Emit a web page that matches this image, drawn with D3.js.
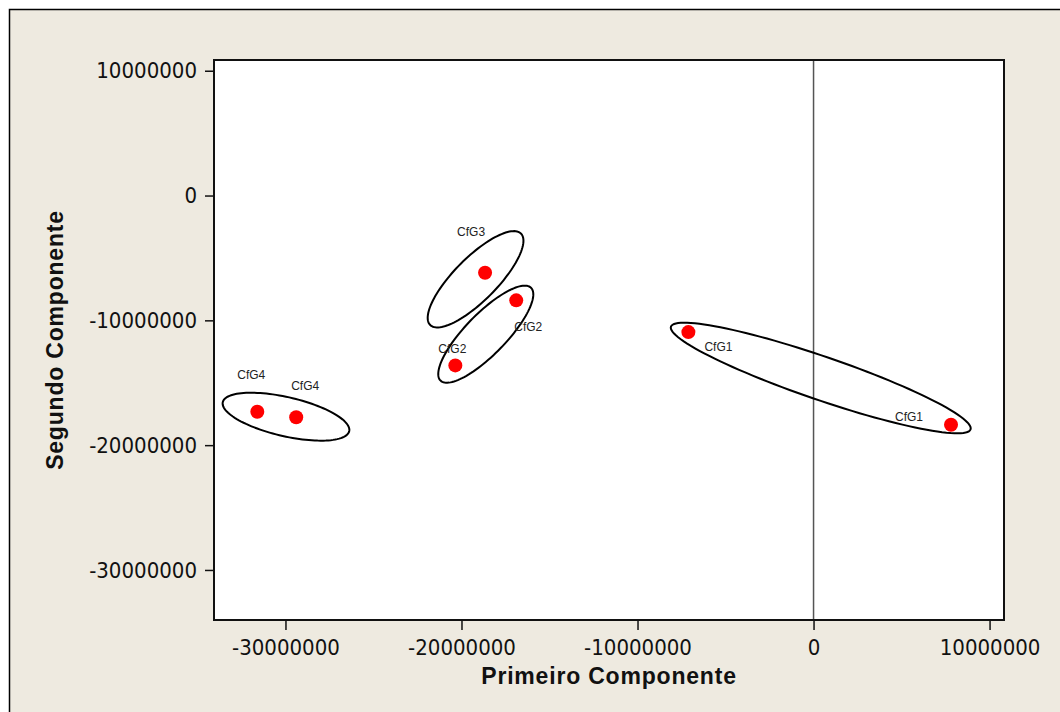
<!DOCTYPE html>
<html>
<head>
<meta charset="utf-8">
<script src="https://cdn.jsdelivr.net/npm/d3@7"></script>
<style>
  html, body { margin: 0; padding: 0; background: #fff; }
  svg { display: block; }
</style>
</head>
<body>
<svg id="chart" width="1060" height="712"></svg>
<script>
'use strict'

// scores (millions)
const pointLabels = ['CfG3', 'CfG2', 'CfG2', 'CfG4', 'CfG4', 'CfG1', 'CfG1'];
const pc1 = [-18.66, -16.89, -20.35, -31.60, -29.39, -7.11, 7.81];
const pc2 = [-6.19, -8.40, -13.61, -17.32, -17.77, -10.94, -18.37];

// group ellipses: centre, half width, half height, correlation
const ellGroups = ['CfG3', 'CfG2', 'CfG4', 'CfG1'];
const ellCx = [-19.20, -18.62, -29.97, 0.41];
const ellCy = [-6.71, -11.11, -17.72, -14.62];
const ellHx = [2.72, 2.70, 3.60, 8.52];
const ellHy = [3.86, 3.89, 1.92, 4.43];
const ellRho = [0.80, 0.82, -0.55, -0.91];

const xTicks = [-30000000, -20000000, -10000000, 0, 10000000];
const yTicks = [10000000, 0, -10000000, -20000000, -30000000];

// label nudges in pixels (text centre relative to the point)
const labelNudge = [[-14, -41], [12, 26], [-3, -17], [-6, -37], [9, -32], [30, 15], [-42, -8]];

const M = 1e6;
const plotL = 214, plotT = 60, plotR = 1004, plotB = 620;
const TICK_FONT = '"DejaVu Sans Condensed", "DejaVu Sans", sans-serif';
const TITLE_FONT = '"Liberation Sans", Arial, sans-serif';

var svg = d3.select('#chart');

// outer frame
svg.append('rect')
	.attr('x', 9.5)
	.attr('y', 9.5)
	.attr('width', 1100)
	.attr('height', 800)
	.attr('fill', '#eeeae0')
	.attr('stroke', '#000')
	.attr('stroke-width', 1.5);

var x = d3.scaleLinear()
	.domain([-34.06 * M, 10.82 * M])
	.range([plotL, plotR]);

var y = d3.scaleLinear()
	.domain([-34.01 * M, 10.86 * M])
	.range([plotB, plotT]);

// plot area
svg.append('rect')
	.attr('x', plotL)
	.attr('y', plotT)
	.attr('width', plotR - plotL)
	.attr('height', plotB - plotT)
	.attr('fill', '#fff');

// reference line at zero
svg.append('line')
	.attr('x1', x(0))
	.attr('x2', x(0))
	.attr('y1', plotT)
	.attr('y2', plotB)
	.attr('stroke', '#555')
	.attr('stroke-width', 1.5);

// ellipses
var ellLine = d3.line()
	.x(function(d) { return x(d[0]); })
	.y(function(d) { return y(d[1]); })
	.curve(d3.curveLinearClosed);

var ellData = ellGroups.map(function(g, i) {
	var pts = [];
	var s = Math.sqrt(1 - ellRho[i] * ellRho[i]);
	for (var k = 0; k < 120; k++) {
		var t = k / 120 * Math.PI * 2;
		pts.push([
			(ellCx[i] + ellHx[i] * Math.cos(t)) * M,
			(ellCy[i] + ellHy[i] * (ellRho[i] * Math.cos(t) + s * Math.sin(t))) * M
		]);
	}
	return pts;
});

svg.append('g')
	.selectAll('path')
	.data(ellData)
	.enter()
	.append('path')
	.attr('d', ellLine)
	.attr('fill', 'none')
	.attr('stroke', '#000')
	.attr('stroke-width', 2);

// points
var pts = pointLabels.map(function(l, i) { return { label: l, px: pc1[i] * M, py: pc2[i] * M, nudge: labelNudge[i] }; });

svg.append('g')
	.selectAll('circle')
	.data(pts)
	.enter()
	.append('circle')
	.attr('cx', function(d) { return x(d.px); })
	.attr('cy', function(d) { return y(d.py); })
	.attr('r', 7)
	.attr('fill', '#ff0000');

svg.append('g')
	.selectAll('text')
	.data(pts)
	.enter()
	.append('text')
	.attr('x', function(d) { return x(d.px) + d.nudge[0]; })
	.attr('y', function(d) { return y(d.py) + d.nudge[1]; })
	.attr('dy', '0.35em')
	.attr('text-anchor', 'middle')
	.style('font-family', TITLE_FONT)
	.style('font-size', '12px')
	.style('fill', '#222')
	.text(function(d) { return d.label; });

// plot border
svg.append('rect')
	.attr('x', plotL)
	.attr('y', plotT)
	.attr('width', plotR - plotL)
	.attr('height', plotB - plotT)
	.attr('fill', 'none')
	.attr('stroke', '#111')
	.attr('stroke-width', 2);

// axes (plain hyphen for negatives, as in the original)
var fmt = function(d) { return String(d); };

var xAxis = svg.append('g')
	.attr('transform', 'translate(0,' + plotB + ')')
	.call(d3.axisBottom(x).tickValues(xTicks).tickFormat(fmt).tickSize(10).tickPadding(9));

var yAxis = svg.append('g')
	.attr('transform', 'translate(' + plotL + ',0)')
	.call(d3.axisLeft(y).tickValues(yTicks).tickFormat(fmt).tickSize(9).tickPadding(8));

[xAxis, yAxis].forEach(function(a) {
	a.select('.domain').remove();
	a.selectAll('line').attr('stroke', '#111').attr('stroke-width', 1.5);
	a.selectAll('text')
		.style('font-family', TICK_FONT)
		.style('font-size', '22px')
		.style('fill', '#111');
});

// axis titles
svg.append('text')
	.attr('x', (plotL + plotR) / 2)
	.attr('y', 684)
	.attr('text-anchor', 'middle')
	.style('font-family', TITLE_FONT)
	.style('font-weight', 'bold')
	.style('font-size', '23px')
	.style('letter-spacing', '0.8px')
	.style('fill', '#111')
	.text('Primeiro Componente');

svg.append('text')
	.attr('transform', 'translate(63,' + (plotT + plotB) / 2 + ') rotate(-90)')
	.attr('text-anchor', 'middle')
	.style('font-family', TITLE_FONT)
	.style('font-weight', 'bold')
	.style('font-size', '23px')
	.style('letter-spacing', '0.8px')
	.style('fill', '#111')
	.text('Segundo Componente');
</script>
</body>
</html>
